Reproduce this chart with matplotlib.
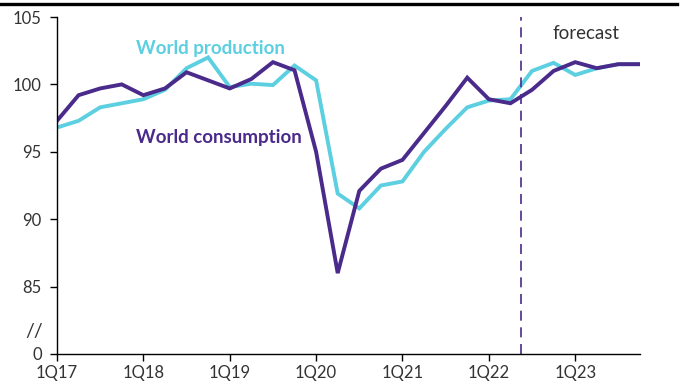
import matplotlib

matplotlib.use("Agg")
import matplotlib.pyplot as plt
from matplotlib.lines import Line2D

# quarterly index, 1Q17 .. 4Q23
quarters = [f"{q}Q{y}" for y in range(17, 24) for q in range(1, 5)]
production = [96.8, 97.3, 98.3, 98.6, 98.9, 99.6, 101.2, 102.0, 99.8, 100.05, 99.95, 101.4,
              100.3, 91.9, 90.8, 92.5, 92.8, 95.0, 96.7, 98.3, 98.8, 98.9, 101.0, 101.6,
              100.7, 101.2, 101.5, 101.5]
consumption = [97.3, 99.2, 99.7, 100.0, 99.2, 99.7, 100.9, 100.3, 99.7, 100.4, 101.65, 101.05,
               95.0, 86.0, 92.1, 93.75, 94.4, 96.4, 98.4, 100.5, 98.9, 98.6, 99.6, 101.0,
               101.65, 101.2, 101.5, 101.5]
forecast_start = 21.5  # between 2Q22 and 3Q22

CYAN = "#5ccfe0"
PURPLE = "#4a2a8a"
TEXT = "#333333"

plt.rcParams["font.family"] = ["Lato", "DejaVu Sans"]

fig = plt.figure(figsize=(6.88, 3.87), dpi=100)
ax = fig.add_axes([57 / 688, 1 - 354 / 387, (640 - 57) / 688, (354 - 17) / 387])

x = list(range(len(quarters)))
ax.plot(x, production, color=CYAN, lw=2.8, solid_joinstyle="miter")
ax.plot(x, consumption, color=PURPLE, lw=2.8, solid_joinstyle="miter")
ax.axvline(forecast_start, color=PURPLE, lw=1.2, ls=(0, (6, 4)))

ax.set_xlim(0, len(quarters) - 1)
ax.set_ylim(80, 105)
ax.set_xticks(x[::4])
ax.set_xticklabels(quarters[::4])
ax.set_yticks([80, 85, 90, 95, 100, 105])
ax.set_yticklabels(["0", "85", "90", "95", "100", "105"])
ax.tick_params(axis="both", length=5, width=1, color="black", labelsize=12,
               labelcolor=TEXT)
ax.tick_params(axis="x", pad=3)
ax.tick_params(axis="y", pad=6)
for side in ("top", "right"):
    ax.spines[side].set_visible(False)
for side in ("left", "bottom"):
    ax.spines[side].set_linewidth(1)

# axis break marker
ax.text(-0.024, 0.068, "//", transform=ax.transAxes, ha="right", va="center",
        fontsize=14, color=TEXT)

ax.text(3.65, 102.65, "World production", color=CYAN, fontsize=13.5, fontweight="bold",
        va="center", ha="left")
ax.text(3.65, 96.05, "World consumption", color=PURPLE, fontsize=13.5, fontweight="bold",
        va="center", ha="left")
ax.text(24.5, 103.8, "forecast", color=TEXT, fontsize=13.5, va="center", ha="center")

# header rule
fig.add_artist(Line2D([0, 677 / 688], [1 - 4.3 / 387] * 2, color="black", lw=2.4,
                      transform=fig.transFigure))

fig.savefig("out.png", dpi=100)
